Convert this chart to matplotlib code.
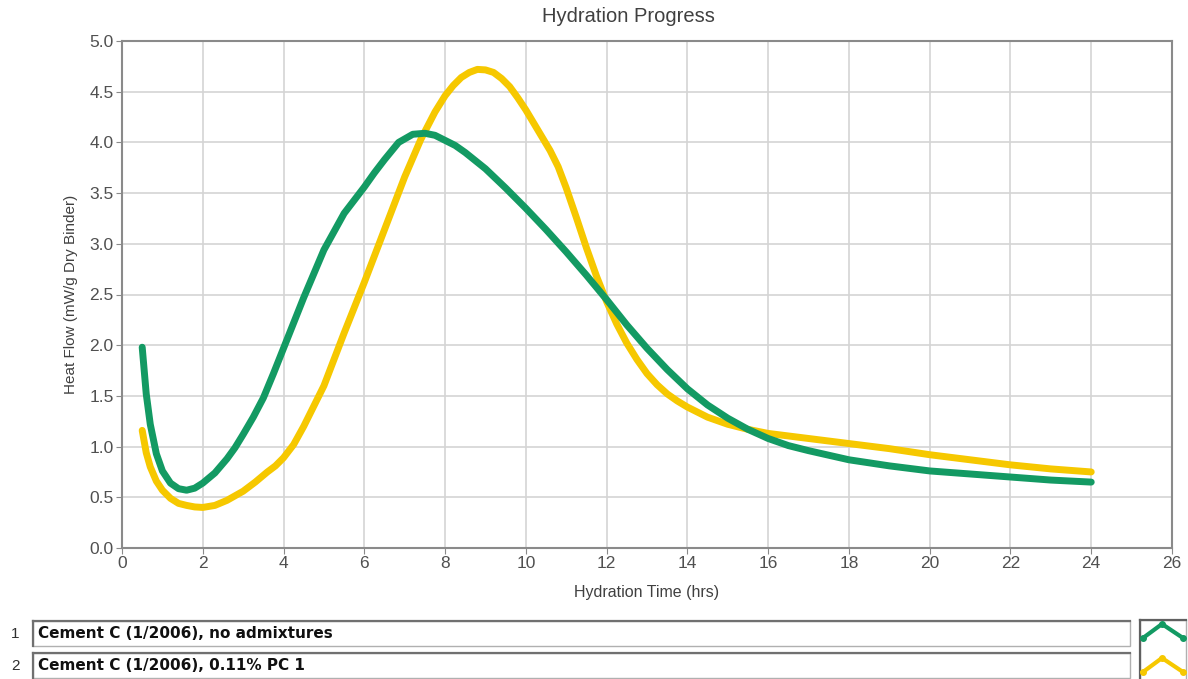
import matplotlib.pyplot as plt
from matplotlib.patches import Rectangle
from matplotlib.lines import Line2D

# --- data ---
green_t = [0.5, 0.6, 0.7, 0.85, 1.0, 1.2, 1.4, 1.6, 1.8, 2.0, 2.3, 2.6, 2.8, 3.0,
           3.25, 3.5, 3.75, 4.0, 4.5, 5.0, 5.5, 6.0, 6.25, 6.5, 6.85, 7.2, 7.5,
           7.75, 8.0, 8.25, 8.5, 9.0, 9.5, 10.0, 10.5, 11.0, 11.5, 12.0, 12.5,
           13.0, 13.5, 14.0, 14.5, 15.0, 15.5, 16.0, 16.5, 17.0, 18.0, 19.0, 20.0,
           21.0, 22.0, 23.0, 24.0]
green_v = [1.98, 1.52, 1.22, 0.93, 0.76, 0.64, 0.585, 0.57, 0.59, 0.64, 0.74, 0.88,
           0.99, 1.12, 1.29, 1.48, 1.72, 1.97, 2.47, 2.94, 3.30, 3.56, 3.70, 3.83,
           4.00, 4.08, 4.09, 4.07, 4.02, 3.97, 3.90, 3.74, 3.55, 3.35, 3.14, 2.92,
           2.69, 2.45, 2.20, 1.97, 1.76, 1.57, 1.41, 1.28, 1.17, 1.08, 1.01, 0.96,
           0.87, 0.81, 0.76, 0.73, 0.70, 0.67, 0.65]

yellow_t = [0.5, 0.6, 0.7, 0.85, 1.0, 1.2, 1.4, 1.6, 1.8, 2.0, 2.3, 2.6, 3.0, 3.3,
            3.6, 3.8, 4.0, 4.25, 4.5, 5.0, 5.5, 6.0, 6.5, 7.0, 7.4, 7.75, 8.0, 8.2,
            8.4, 8.6, 8.8, 9.0, 9.2, 9.4, 9.6, 9.8, 10.0, 10.15, 10.3, 10.45, 10.6,
            10.8, 11.0, 11.25, 11.5, 11.75, 12.0, 12.25, 12.5, 12.75, 13.0, 13.25,
            13.5, 13.75, 14.0, 14.5, 15.0, 15.5, 16.0, 17.0, 18.0, 19.0, 20.0,
            21.0, 22.0, 23.0, 24.0]
yellow_v = [1.16, 0.94, 0.80, 0.66, 0.57, 0.49, 0.44, 0.42, 0.405, 0.40, 0.42, 0.47,
            0.56, 0.65, 0.75, 0.81, 0.89, 1.02, 1.20, 1.60, 2.12, 2.62, 3.14, 3.66,
            4.03, 4.30, 4.46, 4.56, 4.64, 4.69, 4.72, 4.715, 4.69, 4.63, 4.55, 4.44,
            4.32, 4.22, 4.12, 4.02, 3.92, 3.76, 3.55, 3.26, 2.96, 2.68, 2.43, 2.21,
            2.02, 1.86, 1.72, 1.61, 1.52, 1.45, 1.39, 1.29, 1.22, 1.17, 1.13, 1.08,
            1.03, 0.98, 0.92, 0.87, 0.82, 0.78, 0.75]

series_names = ["Cement C (1/2006), no admixtures", "Cement C (1/2006), 0.11% PC 1"]
series_colors = ["#139a63", "#f6c800"]

x_ticks = list(range(0, 27, 2))
y_ticks = [0.0, 0.5, 1.0, 1.5, 2.0, 2.5, 3.0, 3.5, 4.0, 4.5, 5.0]

plt.rcParams['font.family'] = ['Liberation Sans', 'DejaVu Sans']

W, H = 1188, 679
fig = plt.figure(figsize=(W / 100, H / 100), dpi=100)
ax = fig.add_axes([122 / W, 1 - 548 / H, (1172 - 122) / W, (548 - 41) / H])

ax.plot(yellow_t, yellow_v, color=series_colors[1], lw=5,
        solid_joinstyle='round', solid_capstyle='round', zorder=2)
ax.plot(green_t, green_v, color=series_colors[0], lw=5,
        solid_joinstyle='round', solid_capstyle='round', zorder=3)

ax.set_xlim(0, 26)
ax.set_ylim(0, 5)
ax.set_xticks(x_ticks)
ax.set_xticklabels([str(t) for t in x_ticks])
ax.set_yticks(y_ticks)
ax.set_yticklabels([f"{t:.1f}" for t in y_ticks])
ax.grid(True, color='#d4d4d4', lw=1.2)
ax.set_axisbelow(True)
for s in ax.spines.values():
    s.set_color('#8a8a8a')
    s.set_linewidth(1.5)
ax.tick_params(colors='#8a8a8a', labelcolor='#505050', labelsize=12.5, length=4,
               pad=2)
ax.set_xlabel("Hydration Time (hrs)", fontsize=11.5, color='#404040', labelpad=10)
ax.set_ylabel("Heat Flow (mW/g Dry Binder)", fontsize=11, color='#404040', labelpad=8)
fig.text(628 / W, 1 - 17 / H, "Hydration Progress", ha='center', va='center',
         fontsize=14.5, color='#404040')

# --- legend strip at the bottom ---
ov = fig.add_axes([0, 0, 1, 1], zorder=-1)
ov.set_xlim(0, W)
ov.set_ylim(H, 0)
ov.axis('off')
for i, name in enumerate(series_names):
    top = 621 + i * 32
    ov.add_patch(Rectangle((33, top), 1097, 25, facecolor='white',
                           edgecolor='#b0b0b0', lw=1))
    ov.plot([33, 1130], [top, top], color='#707070', lw=1.6)
    ov.plot([33, 33], [top, top + 25], color='#707070', lw=1.6)
    ov.text(15, top + 13, str(i + 1), ha='center', va='center', fontsize=11,
            color='#303030')
    ov.text(38, top + 13, name, ha='left', va='center', fontsize=11,
            fontweight='bold', family='DejaVu Sans', color='#101010')

ov.add_patch(Rectangle((1140, 620), 46, 62, facecolor='white',
                       edgecolor='#b0b0b0', lw=1))
ov.plot([1140, 1186], [620, 620], color='#606060', lw=1.6)
ov.plot([1140, 1140], [620, 682], color='#606060', lw=1.6)
for i, c in enumerate(series_colors):
    yb = 638 + i * 34
    ov.add_line(Line2D([1143, 1162, 1183], [yb, yb - 14, yb], color=c, lw=3,
                       marker='o', markersize=4, solid_joinstyle='round'))

fig.savefig("out.png", dpi=100)
